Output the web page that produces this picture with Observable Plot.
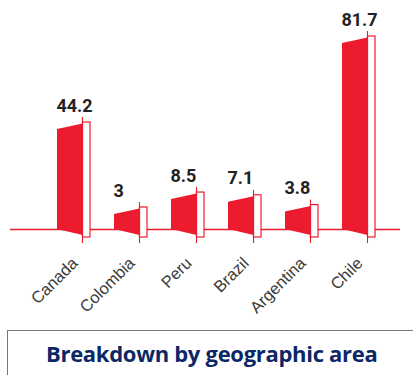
<!DOCTYPE html>
<html>
<head>
<meta charset="utf-8">
<script src="https://cdn.jsdelivr.net/npm/d3@7"></script>
<script src="https://cdn.jsdelivr.net/npm/@observablehq/plot@0.6"></script>
<style>
  html, body { margin: 0; padding: 0; background: #fff; }
  #wrap { position: relative; width: 413px; height: 375px; overflow: hidden; }
  #title {
    position: absolute; left: 7px; top: 330px; width: 420px; height: 48px;
    border: 1px solid #777; border-right: none; box-sizing: border-box;
    font-family: "Open Sans", "Noto Sans", sans-serif; font-weight: 700;
    font-size: 22px; color: #0d2766; text-align: left; padding-left: 38px;
    line-height: 44px; letter-spacing: -0.3px;
  }
</style>
</head>
<body>
<div id="wrap"></div>
<script>
const countries = ["Canada", "Colombia", "Peru", "Brazil", "Argentina", "Chile"];
const values = [44.2, 3, 8.5, 7.1, 3.8, 81.7];
const titleText = "Breakdown by geographic area";

const data = countries.map((c, i) => ({country: c, value: values[i]}));
const RED = "#ec1c2e";

// the original graphic exaggerates small bars: a piecewise visual transform
const visual = d3.scaleLinear().domain([0, 3, 7, 44.2, 81.7]).range([0, 15, 27, 100, 186]);

function bars(index, scales) {
  const x = scales.x;
  const y = v => scales.y(visual(v));
  const g = d3.create("svg:g");
  const B = y(0);
  for (const d of data) {
    const L = x(d.country), T = y(d.value);
    const R = L + 25.5;
    g.append("rect")
      .attr("x", R).attr("y", T - 7)
      .attr("width", 7.5).attr("height", B + 8 - (T - 7))
      .attr("fill", "#fff").attr("stroke", RED).attr("stroke-width", 1.2);
    g.append("path")
      .attr("d", `M${L},${T}L${R},${T - 5.5}L${R},${B + 6}L${L},${B}Z`)
      .attr("fill", RED);
    g.append("line")
      .attr("x1", R).attr("x2", R)
      .attr("y1", T - 12).attr("y2", B + 14)
      .attr("stroke", RED).attr("stroke-width", 1.1);
  }
  return g.node();
}

const chart = Plot.plot({
  width: 413,
  height: 326,
  marginLeft: 10,
  marginRight: 13,
  marginTop: 0,
  marginBottom: 0,
  x: {type: "band", domain: countries, range: [57, 399.8], padding: 0, axis: null},
  y: {type: "linear", transform: visual, domain: [0, 186], range: [229, 43], axis: null},
  marks: [
    Plot.ruleY([0], {stroke: RED, strokeWidth: 1.4}),
    bars,
    Plot.text(data, {
      x: "country", y: "value", text: d => String(d.value),
      textAnchor: "start", lineAnchor: "bottom", dx: -29.6, dy: -18,
      fontSize: 18, fontWeight: 700, fill: "#222",
      fontFamily: "Roboto, 'Liberation Sans', sans-serif"
    }),
    Plot.text(data, {
      x: "country", y: 0, text: "country",
      rotate: -45, textAnchor: "end", dx: -11, dy: 31,
      fontSize: 16.5, fill: "#3a3a3a",
      fontFamily: "'Liberation Sans', Arial, sans-serif"
    })
  ]
});

const wrap = document.getElementById("wrap");
wrap.appendChild(chart);
const t = document.createElement("div");
t.id = "title";
t.textContent = titleText;
wrap.appendChild(t);
</script>
</body>
</html>
